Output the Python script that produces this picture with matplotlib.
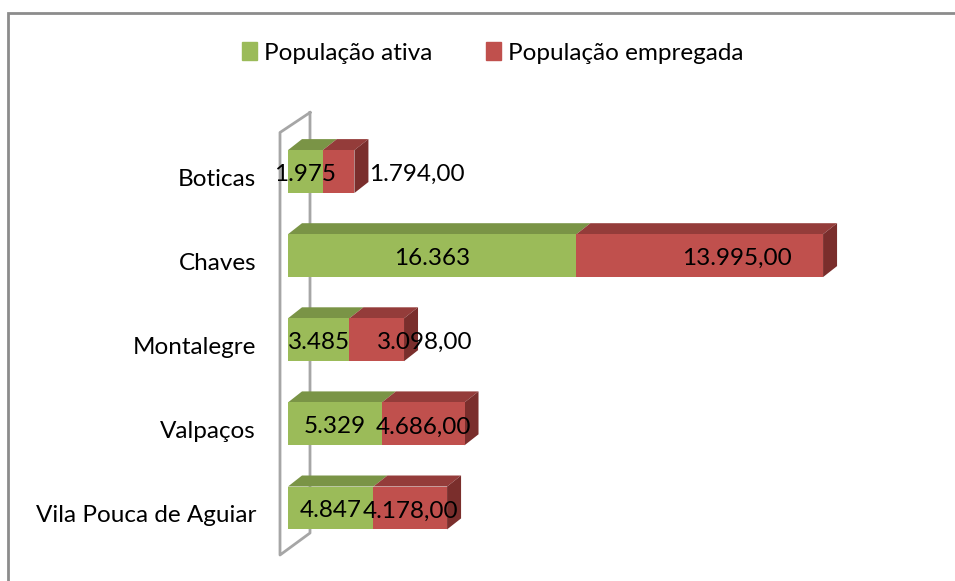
import matplotlib
matplotlib.use('Agg')
import matplotlib.pyplot as plt
from matplotlib.patches import Polygon, Rectangle
from matplotlib.lines import Line2D
from matplotlib.transforms import offset_copy

# data (bottom to top on the chart)
municipios = ['Vila Pouca de Aguiar', 'Valpaços', 'Montalegre', 'Chaves', 'Boticas']
pop_ativa = [4847, 5329, 3485, 16363, 1975]
pop_empregada = [4178, 4686, 3098, 13995, 1794]
ativa_labels = ['4.847', '5.329', '3.485', '16.363', '1.975']
empregada_labels = ['4.178,00', '4.686,00', '3.098,00', '13.995,00', '1.794,00']

# pixel shift of the red labels (Excel places some of them off-centre)
red_shift = [0, 0, 48, 37, 78]

green = '#9BBB59'
green_top = '#7A9446'
red = '#C0504D'
red_top = '#943C3A'
red_side = '#7A2E2C'
font = 'Lato'
fs = 17.5

W, H = 955, 581
fig = plt.figure(figsize=(W / 100, H / 100), dpi=100)
ax = fig.add_axes([288 / W, 31 / H, 564 / W, 420.5 / H])
ax.set_xlim(0, 32000)
ax.set_ylim(-0.5, 4.5)
ax.axis('off')

# outer chart border (cropped)
fig.patches.append(Rectangle((8, -10), 1000, 581 - 13 + 10, transform=None,
                             fill=False, edgecolor='#8C8C8C', linewidth=2))

ypos = list(range(len(municipios)))
bh = 0.51
dx, dy = 14, 11

fig.canvas.draw()
tr = ax.transData


def px(x, y):
    return tr.transform((x, y))


# back wall
x0, _ = px(0, 0)
_, ytop = ax.transAxes.transform((0, 1))
_, ybot = ax.transAxes.transform((0, 0))
wall = [(x0 + 22, ytop + 17), (x0 - 8, ytop - 3), (x0 - 8, ybot - 5), (x0 + 22, ybot + 17)]
ax.add_line(Line2D([p[0] for p in wall] + [wall[0][0]], [p[1] for p in wall] + [wall[0][1]],
                   transform=None, color='#A6A6A6', linewidth=2, zorder=0.5, clip_on=False))

ax.barh(ypos, pop_ativa, height=bh, color=green, edgecolor='none', zorder=2)
ax.barh(ypos, pop_empregada, left=pop_ativa, height=bh, color=red, edgecolor='none', zorder=2)

for y, a, e in zip(ypos, pop_ativa, pop_empregada):
    top = y + bh / 2
    bot = y - bh / 2
    for xa, xb, c in [(0, a, green_top), (a, a + e, red_top)]:
        p1, p2 = px(xa, top), px(xb, top)
        poly = [p1, p2, (p2[0] + dx, p2[1] + dy), (p1[0] + dx, p1[1] + dy)]
        ax.add_patch(Polygon(poly, closed=True, transform=None, facecolor=c,
                             edgecolor='none', zorder=1, clip_on=False))
    q1, q2 = px(a + e, bot), px(a + e, top)
    side = [q1, q2, (q2[0] + dx, q2[1] + dy), (q1[0] + dx, q1[1] + dy)]
    ax.add_patch(Polygon(side, closed=True, transform=None, facecolor=red_side,
                         edgecolor='none', zorder=1, clip_on=False))

for y, a, e, la, le, s in zip(ypos, pop_ativa, pop_empregada, ativa_labels, empregada_labels, red_shift):
    ax.text(a / 2, y, la, ha='center', va='center', fontsize=fs, family=font, zorder=5,
            transform=offset_copy(ax.transData, fig=fig, x=0, y=-3, units='dots'))
    t = offset_copy(ax.transData, fig=fig, x=s, y=-3, units='dots')
    ax.text(a + e / 2, y, le, ha='center', va='center', fontsize=fs, family=font,
            transform=t, zorder=5)
    ax.text(0, y, municipios[y], ha='right', va='center', fontsize=fs, family=font,
            transform=offset_copy(ax.transData, fig=fig, x=-32, y=-8, units='dots'))

# legend
handles = [Rectangle((0, 0), 1, 1, color=green), Rectangle((0, 0), 1, 1, color=red)]
fig.legend(handles, ['População ativa', 'População empregada'], loc='center',
           bbox_to_anchor=(493 / W, 1 - 53 / H), ncol=2, frameon=False,
           prop={'family': font, 'size': fs}, handlelength=0.6, handleheight=0.7,
           handletextpad=0.3, columnspacing=2.2)

fig.savefig('out.png', dpi=100)
